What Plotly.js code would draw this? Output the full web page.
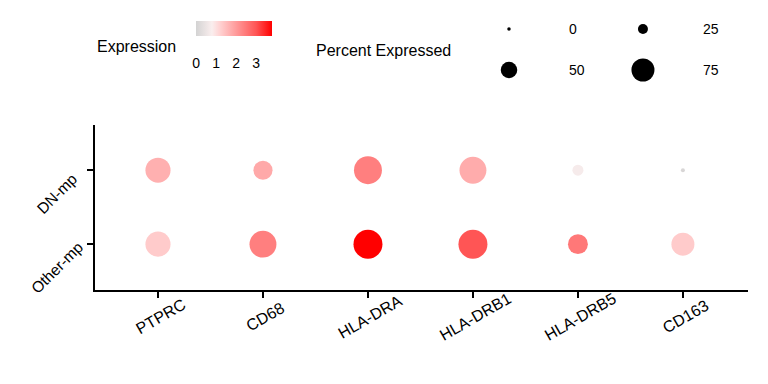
<!DOCTYPE html>
<html>
<head>
<meta charset="utf-8">
<script src="https://cdn.plot.ly/plotly-3.0.1.min.js"></script>
<style>html,body{margin:0;padding:0;background:#fff;}#chart{width:768px;height:384px;}</style>
</head>
<body>
<div id="chart"></div>
<script>
// ---- data ----
var genes = ["PTPRC", "CD68", "HLA-DRA", "HLA-DRB1", "HLA-DRB5", "CD163"];
var groups = ["Other-mp", "DN-mp"];
var pctDN    = [83, 60, 94, 90, 29, 2];
var pctOther = [83, 90, 98, 98, 63, 75];
var expDN    = [1.7, 1.8, 2.4, 1.75, 0.72, 0.1];
var expOther = [1.3, 2.4, 3.8, 3.0, 2.5, 1.3];
var legendPct = [0, 25, 50, 75];
var colorTicks = [0, 1, 2, 3];

// ---- scales ----
var expMax = 3.8;
function sizeOf(p) { return 3.5 + 0.26 * p; }
var cscale = [
  [0, "rgb(211,211,211)"],
  [0.21, "rgb(250,238,238)"],
  [0.316, "rgb(255,210,210)"],
  [0.526, "rgb(255,155,155)"],
  [0.79, "rgb(255,85,85)"],
  [1, "rgb(255,0,0)"]
];

var xs = [], ys = [], sz = [], col = [];
groups.forEach(function (g) {
  var p = g === "DN-mp" ? pctDN : pctOther;
  var e = g === "DN-mp" ? expDN : expOther;
  genes.forEach(function (gene, i) {
    xs.push(gene); ys.push(g); sz.push(sizeOf(p[i])); col.push(e[i]);
  });
});

var FONT = "Liberation Sans, Arial, sans-serif";

var dots = {
  type: "scatter", mode: "markers", x: xs, y: ys,
  xaxis: "x", yaxis: "y", hoverinfo: "skip", showlegend: false,
  marker: {
    size: sz, sizemode: "diameter", color: col, colorscale: cscale,
    cmin: 0, cmax: expMax, opacity: 1, line: { width: 0 },
    colorbar: {
      orientation: "h", lenmode: "pixels", len: 76, thickness: 15,
      x: 0.2129, xanchor: "center", y: 0.9607, yanchor: "top",
      xpad: 0, ypad: 0, outlinewidth: 0,
      tickmode: "array", tickvals: colorTicks, ticktext: colorTicks.map(String),
      ticks: "outside", ticklen: 16, tickcolor: "rgba(0,0,0,0)",
      tickfont: { family: FONT, size: 14, color: "#000" }
    }
  }
};

// size legend: column/row grid positions
var legX = [0, 1, 0, 1], legY = [1, 1, 0, 0];
var legend = {
  type: "scatter", mode: "markers", x: legX, y: legY,
  xaxis: "x2", yaxis: "y2", hoverinfo: "skip", showlegend: false,
  marker: { size: legendPct.map(sizeOf), sizemode: "diameter", color: "#000", opacity: 1, line: { width: 0 } }
};

var annotations = legendPct.map(function (v, i) {
  return {
    xref: "x2", yref: "y2", x: legX[i] + 0.43, y: legY[i], text: String(v),
    showarrow: false, xanchor: "left", yanchor: "middle",
    font: { family: FONT, size: 14, color: "#000" }
  };
});
annotations.push({
  xref: "paper", yref: "paper", x: 0, y: 0.868, text: "Expression",
  showarrow: false, xanchor: "left", yanchor: "middle",
  font: { family: FONT, size: 16, color: "#000" }
});
annotations.push({
  xref: "paper", yref: "paper", x: 0.3354, y: 0.854, text: "Percent Expressed",
  showarrow: false, xanchor: "left", yanchor: "middle",
  font: { family: FONT, size: 16, color: "#000" }
});
// rotated axis tick labels (centred like the reference)
genes.forEach(function (g) {
  annotations.push({
    xref: "x", yref: "paper", x: g, y: -0.0964, xshift: 3, text: g,
    showarrow: false, xanchor: "center", yanchor: "middle", textangle: -30,
    font: { family: FONT, size: 16, color: "#000" }
  });
});
groups.forEach(function (g) {
  annotations.push({
    xref: "paper", yref: "y", x: -0.0582, y: g, yshift: -23, text: g,
    showarrow: false, xanchor: "center", yanchor: "middle", textangle: -45,
    font: { family: FONT, size: 15.5, color: "#000" }
  });
});

var layout = {
  width: 768, height: 384,
  margin: { l: 95, r: 20, t: 10, b: 94, autoexpand: false },
  paper_bgcolor: "#fff", plot_bgcolor: "#fff",
  font: { family: FONT, color: "#000" },
  xaxis: {
    type: "category", categoryorder: "array", categoryarray: genes,
    range: [-0.6, 5.62], showgrid: false, zeroline: false,
    showline: true, linecolor: "#000", linewidth: 2,
    ticks: "outside", ticklen: 6, tickwidth: 2, tickcolor: "#000",
    showticklabels: false, anchor: "y", fixedrange: true
  },
  yaxis: {
    type: "category", categoryorder: "array", categoryarray: groups,
    range: [-0.62, 1.61], domain: [0, 0.589], showgrid: false, zeroline: false,
    showline: true, linecolor: "#000", linewidth: 2,
    ticks: "outside", ticklen: 6, tickwidth: 2, tickcolor: "#000",
    showticklabels: false, anchor: "x", fixedrange: true
  },
  xaxis2: {
    domain: [0, 1], range: [-3.09, 1.784], anchor: "y2",
    visible: false, showgrid: false, zeroline: false, fixedrange: true
  },
  yaxis2: {
    domain: [0.6, 1], range: [-1.268, 1.463], anchor: "x2",
    visible: false, showgrid: false, zeroline: false, fixedrange: true
  },
  annotations: annotations
};

Plotly.newPlot("chart", [dots, legend], layout, { displayModeBar: false, staticPlot: true });
</script>
</body>
</html>
